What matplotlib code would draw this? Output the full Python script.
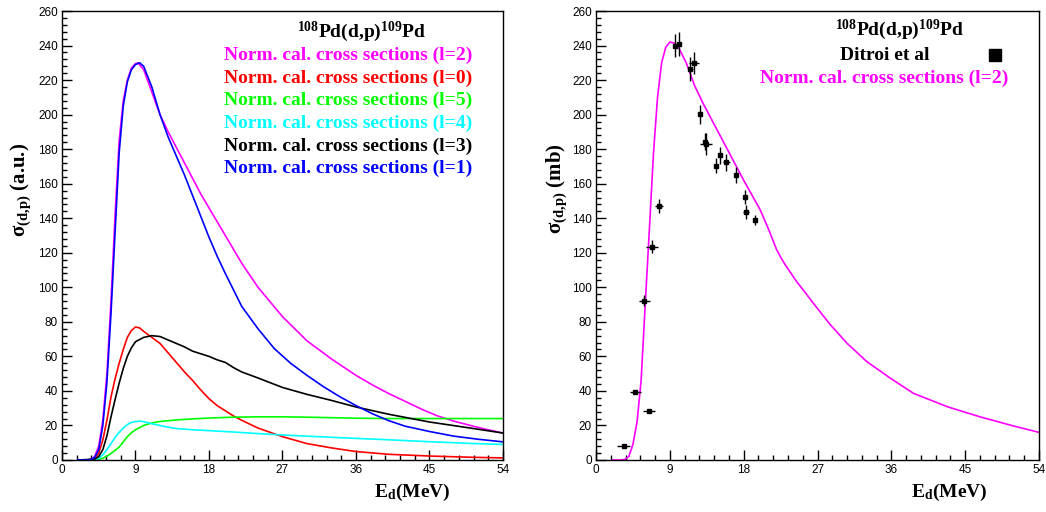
import matplotlib
matplotlib.use("Agg")
import matplotlib.pyplot as plt
from matplotlib.ticker import MultipleLocator

plt.rcParams['mathtext.fontset'] = 'custom'
plt.rcParams['mathtext.rm'] = 'Liberation Serif:bold'
plt.rcParams['mathtext.it'] = 'Liberation Serif:bold'
plt.rcParams['mathtext.bf'] = 'Liberation Serif:bold'

# ---------------- Left panel data (a.u.) ----------------
E_l2 = [2, 3, 3.5, 4, 4.5, 5, 5.5, 6, 6.5, 7, 7.5, 8, 8.5, 9, 9.3, 10, 11, 12, 13, 14, 15, 16, 17, 18, 19, 20, 22, 24, 27, 30, 33, 36, 38, 40, 42, 44, 46, 48, 50, 52, 54]
v_l2 = [0, 0, 0.3, 2, 8, 23, 50, 92, 142, 185, 208, 220, 227, 229.5, 230, 226, 213, 200, 190, 181, 172, 163, 154, 146, 138, 130, 114, 100, 83, 69, 58.5, 49, 43.5, 38.5, 34, 29.5, 25.5, 22.5, 20, 17.7, 15.6]

E_l1 = [2, 3, 3.5, 4, 4.5, 5, 5.5, 6, 6.5, 7, 7.5, 8, 8.5, 9, 9.5, 10, 11, 12, 13, 14, 15, 16, 17, 18, 19, 20, 22, 24, 26, 28, 30, 32, 34, 36, 38, 40, 42, 45, 48, 51, 54]
v_l1 = [0, 0, 0.2, 1.5, 6, 20, 45, 85, 132, 178, 205, 219, 226, 229, 230, 228, 216, 200, 187, 176, 165, 153, 141, 129, 118, 108, 89, 76, 64.5, 56, 49, 42.5, 36.7, 31.5, 26.8, 22.8, 19.6, 16.5, 13.8, 12, 10.5]

E_l0 = [2, 3, 4, 4.5, 5, 5.5, 6, 6.5, 7, 7.5, 8, 8.5, 9, 9.5, 10, 11, 12, 13, 14, 15, 16, 17, 18, 19, 20, 21, 22, 24, 27, 30, 33, 36, 40, 45, 50, 54]
v_l0 = [0, 0, 0.8, 4, 11.6, 23, 36.5, 47, 56, 64, 71, 75, 77, 76.5, 74.5, 71, 67.5, 62, 56.5, 51, 46, 40.5, 35.5, 31.5, 28.5, 25.5, 23, 18.5, 13.5, 9.5, 7, 4.9, 3.3, 2.3, 1.6, 1.2]

E_l5 = [2, 4, 4.5, 5, 5.5, 6, 6.5, 7, 7.5, 8, 8.5, 9, 10, 11, 12, 14, 16, 18, 21, 24, 27, 30, 36, 40, 45, 54]
v_l5 = [0, 0, 0.3, 1, 2.2, 3.8, 5.6, 7.5, 10.5, 13.5, 15.8, 17.5, 20, 21.5, 22.3, 23.2, 23.8, 24.3, 24.8, 25, 25, 24.8, 24.2, 24, 24, 24]

E_l4 = [2, 4, 4.5, 5, 5.5, 6, 6.5, 7, 7.5, 8, 8.5, 9, 9.5, 10, 11, 12, 13, 14, 16, 18, 21, 24, 27, 30, 36, 40, 45, 50, 54]
v_l4 = [0, 0.2, 1, 3, 6, 9.5, 13, 16, 18.5, 20.5, 21.8, 22.3, 22.5, 22.2, 21, 20, 19, 18.2, 17.5, 17, 16.2, 15.3, 14.5, 13.8, 12.5, 11.7, 10.6, 9.6, 9]

E_l3 = [2, 4, 4.5, 5, 5.5, 6, 6.5, 7, 7.5, 8, 8.5, 9, 10, 11, 12, 13, 14, 15, 16, 17, 18, 19, 20, 21, 22, 24, 27, 30, 33, 36, 40, 45, 50, 54]
v_l3 = [0, 0.5, 2, 6, 14, 25, 35, 44.5, 53, 60, 65, 68.5, 71, 72, 71.5, 69.5, 67.5, 65.5, 63, 61.5, 60, 58, 56.5, 53.5, 51, 47.5, 42, 38, 34.5, 30.7, 26.5, 22, 18.5, 15.6]

left_series = [
    (E_l2, v_l2, '#ff00ff', 'Norm. cal. cross sections (l=2)'),
    (E_l0, v_l0, '#ff0000', 'Norm. cal. cross sections (l=0)'),
    (E_l5, v_l5, '#00ff00', 'Norm. cal. cross sections (l=5)'),
    (E_l4, v_l4, '#00ffff', 'Norm. cal. cross sections (l=4)'),
    (E_l3, v_l3, '#000000', 'Norm. cal. cross sections (l=3)'),
    (E_l1, v_l1, '#0000ff', 'Norm. cal. cross sections (l=1)'),
]

# ---------------- Right panel data (mb) ----------------
E_r2 = [2, 3, 3.5, 4, 4.5, 5, 5.5, 6, 6.5, 7, 7.5, 8, 8.5, 9, 9.5, 10, 11, 12, 13, 14, 15, 16, 17, 18, 19, 20, 21, 22, 22.5, 23, 24, 24.5, 25.5, 26.5, 28.5, 30.6, 33, 35.9, 38.7, 42.8, 46.8, 50.9, 54]
v_r2 = [0, 0, 0.3, 2, 9, 22, 46, 90, 133, 177, 210, 230, 239, 242, 241.5, 239.5, 230, 217, 207, 198, 189, 180, 171, 162, 153.5, 145, 134, 122, 117.5, 113.5, 106.5, 103, 97, 90.7, 78.7, 67.6, 57, 47.3, 38.6, 30.9, 25, 19.7, 16]

E_exp = [3.4, 4.8, 5.9, 6.5, 6.8, 7.7, 9.6, 10.1, 11.5, 11.9, 12.7, 13.3, 13.4, 14.6, 15.1, 15.9, 17.1, 18.2, 18.3, 19.4]
v_exp = [7.9, 39.6, 92.3, 28.2, 123.6, 147.3, 240.0, 240.8, 226.4, 229.7, 200.3, 184.3, 182.8, 170.4, 176.4, 172.4, 165.0, 152.5, 143.8, 138.8]
xerr_exp = [0.8, 0.65, 0.7, 0.75, 0.7, 0.5, 0.2, 0.3, 0.3, 0.6, 0.2, 0.2, 0.7, 0.2, 0.2, 0.4, 0.2, 0.2, 0.4, 0.2]
yerr_exp = [1, 1, 3, 1, 3.7, 4, 6.6, 7, 7, 6.3, 5.5, 5, 6.3, 4.2, 5, 5, 4.8, 4, 4, 3]

xticks = [0, 9, 18, 27, 36, 45, 54]

fig = plt.figure(figsize=(10.46, 5.12), dpi=100)
axL = fig.add_axes([62/1046, 1-460/512, 441/1046, 449/512])
axR = fig.add_axes([596/1046, 1-460/512, 443/1046, 449/512])

def style(ax):
    ax.set_xlim(0, 54)
    ax.set_ylim(0, 260)
    ax.set_xticks(xticks)
    ax.xaxis.set_minor_locator(MultipleLocator(1.8))
    ax.yaxis.set_major_locator(MultipleLocator(20))
    ax.yaxis.set_minor_locator(MultipleLocator(4))
    ax.tick_params(which='both', direction='in', top=False, right=False, width=1.0, color='black')
    ax.tick_params(which='major', length=7)
    ax.tick_params(which='minor', length=3.5)
    ax.tick_params(axis='both', labelsize=8.5, pad=3)
    for lab in ax.get_xticklabels() + ax.get_yticklabels():
        lab.set_family('Liberation Sans')
    for s in ax.spines.values():
        s.set_linewidth(1.0)
        s.set_color('black')

style(axL)
style(axR)

# Left curves
for E, v, c, lab in left_series:
    axL.plot(E, v, color=c, lw=1.2, solid_joinstyle='round')

title_txt = r'$^{108}$Pd(d,p)$^{109}$Pd'
serif = dict(family='Liberation Serif', weight='bold')
FS = 14

axL.text(0.678, 0.953, title_txt, transform=axL.transAxes, ha='center', va='center', fontsize=FS, **serif)
leg_y = [0.902, 0.850, 0.800, 0.750, 0.699, 0.650]
for (E, v, c, lab), yy in zip(left_series, leg_y):
    axL.text(0.6485, yy, lab, color=c, transform=axL.transAxes, ha='center', va='center', fontsize=FS, **serif)

axL.text(-0.095, 0.706, r'$\sigma_{(d{,}p)}$ (a.u.)', rotation=90, transform=axL.transAxes,
         ha='center', va='top', fontsize=15, **serif)
axL.text(0.882, -0.073, r'E$_{d}$(MeV)', transform=axL.transAxes, ha='right', va='center', fontsize=14, **serif)

# Right panel
axR.plot(E_r2, v_r2, color='#ff00ff', lw=1.2, solid_joinstyle='round')
axR.errorbar(E_exp, v_exp, xerr=xerr_exp, yerr=yerr_exp, fmt='s', color='black', ms=3.5,
             elinewidth=1.0, capsize=0, zorder=3)

axR.text(0.686, 0.958, title_txt, transform=axR.transAxes, ha='center', va='center', fontsize=FS, **serif)
axR.text(0.651, 0.902, 'Ditroi et al', transform=axR.transAxes, ha='center', va='center', fontsize=FS, **serif)
axR.plot([0.9007], [0.902], 's', color='black', ms=8, transform=axR.transAxes, clip_on=False)
axR.text(0.651, 0.850, 'Norm. cal. cross sections (l=2)', color='#ff00ff', transform=axR.transAxes,
         ha='center', va='center', fontsize=FS, **serif)

axR.text(-0.09, 0.706, r'$\sigma_{(d{,}p)}$ (mb)', rotation=90, transform=axR.transAxes,
         ha='center', va='top', fontsize=15, **serif)
axR.text(0.885, -0.073, r'E$_{d}$(MeV)', transform=axR.transAxes, ha='right', va='center', fontsize=14, **serif)

fig.savefig('out.png', dpi=100)
